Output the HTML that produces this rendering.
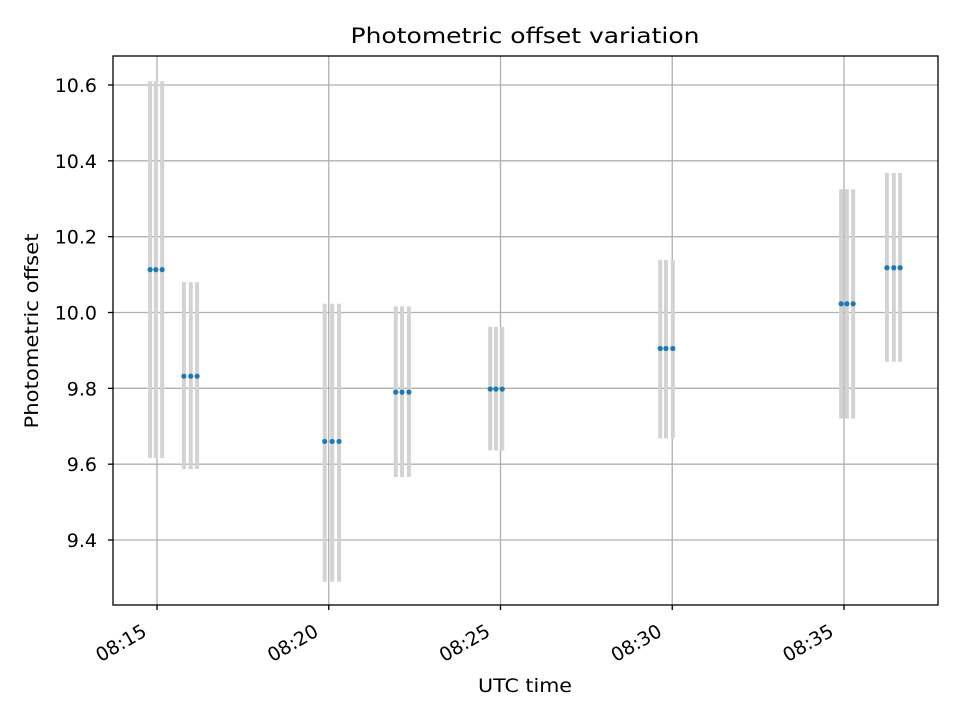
<!DOCTYPE html>
<html><head><meta charset="utf-8"><style>body{margin:0;background:#fff}svg{display:block;font-family:"DejaVu Sans","Liberation Sans",sans-serif}</style></head>
<body>
<svg id="c" width="960" height="720"></svg>
<script>
const times=[-12,-2,9,47,59,70,293,306,318,417,428,440,582,592,603,879,889,901,1195,1205,1216,1275,1287,1298];
const values=[10.113,10.113,10.113,9.832,9.832,9.832,9.66,9.66,9.66,9.79,9.79,9.79,9.798,9.798,9.798,9.905,9.905,9.905,10.023,10.023,10.023,10.118,10.118,10.118];
const lows=[9.616,9.616,9.616,9.587,9.587,9.587,9.29,9.29,9.29,9.566,9.566,9.566,9.636,9.636,9.636,9.668,9.668,9.668,9.72,9.72,9.72,9.87,9.87,9.87];
const highs=[10.61,10.61,10.61,10.08,10.08,10.08,10.023,10.023,10.023,10.016,10.016,10.016,9.962,9.962,9.962,10.138,10.138,10.138,10.325,10.325,10.325,10.368,10.368,10.368];
const yTicks=[9.4,9.6,9.8,10.0,10.2,10.4,10.6];
const xTickSec=[0,300,600,900,1200];
const xTickLabels=["08:15","08:20","08:25","08:30","08:35"];
const L=113,R=938,T=56,B=605;
const xs=s=>157+s*(171.75/300);
const ys=v=>85+(10.6-v)*379.17;
const svg=document.getElementById('c');const NS='http://www.w3.org/2000/svg';
function mk(t,a,p){const e=document.createElementNS(NS,t);for(const k in a)e.setAttribute(k,a[k]);(p||svg).appendChild(e);return e;}
let e;
e=mk('text',{x:525,y:43,'text-anchor':'middle','font-size':21,textLength:349,lengthAdjust:'spacingAndGlyphs'});e.textContent='Photometric offset variation';


yTicks.forEach(v=>{const y=ys(v);
e=mk('line',{x1:L,x2:R,y1:y,y2:y,stroke:'#b0b0b0','stroke-width':1.3});


mk('line',{x1:L-5,x2:L,y1:y,y2:y,stroke:'#000','stroke-width':1.3});
e=mk('text',{x:L-16,y:y+7,'text-anchor':'end','font-size':19});e.textContent=v.toFixed(1);

});
xTickSec.forEach((s,i)=>{const x=xs(s);
e=mk('line',{x1:x,x2:x,y1:T,y2:B,stroke:'#b0b0b0','stroke-width':1.3});


mk('line',{x1:x,x2:x,y1:B,y2:B+5,stroke:'#000','stroke-width':1.3});
e=mk('text',{x:x-9,y:B+30,'text-anchor':'end','font-size':19,transform:`rotate(-30 ${x-9} ${B+30})`});e.textContent=xTickLabels[i];

});
times.forEach((s,i)=>{const x=xs(s);
e=mk('line',{x1:x,x2:x,y1:ys(highs[i]),y2:ys(lows[i]),stroke:'#d3d3d3','stroke-width':4});

});
times.forEach((s,i)=>{
e=mk('circle',{cx:xs(s),cy:ys(values[i]),r:2.6,fill:'#1f77b4'});

});
e=mk('rect',{x:L,y:T,width:R-L,height:B-T,fill:'none',stroke:'#000','stroke-width':1.3});


e=mk('text',{x:525,y:692,'text-anchor':'middle','font-size':19,textLength:94,lengthAdjust:'spacingAndGlyphs'});e.textContent='UTC time';


e=mk('text',{x:38,y:331,'text-anchor':'middle','font-size':19,textLength:195,lengthAdjust:'spacingAndGlyphs',transform:'rotate(-90 38 331)'});e.textContent='Photometric offset';


</script>
</body></html>
